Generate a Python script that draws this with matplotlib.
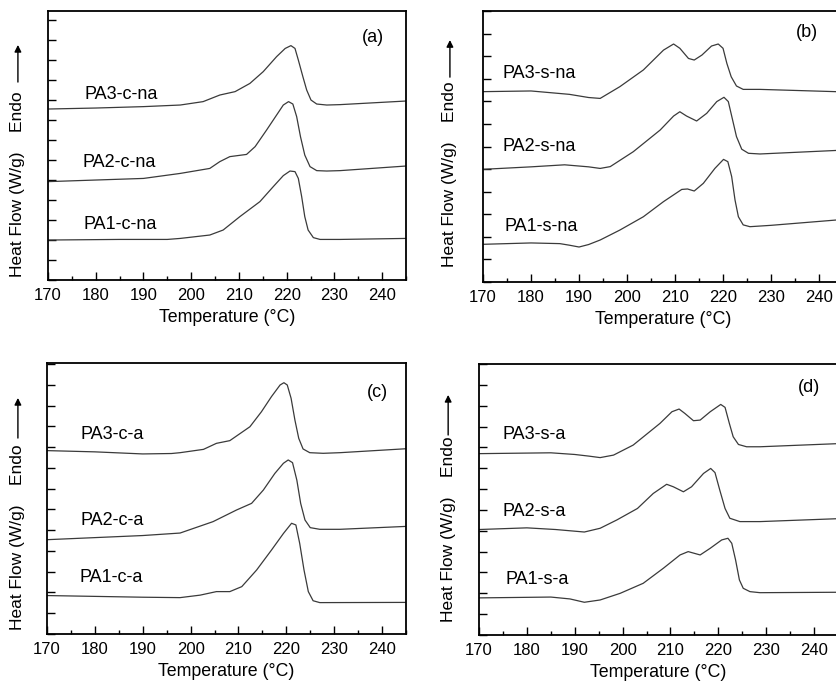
import matplotlib

matplotlib.use("Agg")
import matplotlib.pyplot as plt  # noqa: E402
from matplotlib.ticker import MultipleLocator  # noqa: E402

plt.rcParams["font.family"] = ["Liberation Sans", "DejaVu Sans"]

# ---- panel (a): PA*-c-na ----
a_pa3_t = [170, 180, 190, 197.7, 202.5, 206, 209.2, 212.3, 215.1, 217.9, 219.7, 220.9, 221.75, 222.45, 223.4, 224.2, 225.1, 226.3, 228.4, 231.2, 245]
a_pa3_y = [8.55, 8.6, 8.67, 8.75, 8.92, 9.25, 9.42, 9.83, 10.42, 11.17, 11.58, 11.72, 11.58, 11.0, 10.17, 9.5, 9.0, 8.8, 8.75, 8.77, 8.95]
a_pa2_t = [170, 180, 190, 197.7, 203.9, 206, 208.1, 211.6, 213.4, 215.8, 217.9, 219.3, 220.4, 221.3, 222.1, 222.9, 223.8, 224.9, 226.3, 228.4, 231.2, 245]
a_pa2_y = [4.92, 5.0, 5.08, 5.33, 5.58, 5.92, 6.17, 6.28, 6.67, 7.5, 8.25, 8.75, 8.92, 8.8, 8.17, 7.17, 6.25, 5.67, 5.47, 5.45, 5.47, 5.7]
a_pa1_t = [170, 185, 195, 197.7, 203.9, 206.7, 210.2, 214.4, 217.2, 219.3, 220.7, 221.75, 222.45, 223.15, 223.8, 224.5, 225.6, 227, 231.2, 245]
a_pa1_y = [2.0, 2.03, 2.03, 2.08, 2.25, 2.5, 3.17, 3.92, 4.67, 5.22, 5.45, 5.42, 5.08, 4.17, 3.17, 2.5, 2.12, 2.03, 2.03, 2.08]

# ---- panel (b): PA*-s-na ----
b_pa3_t = [170, 180, 188, 192, 194.4, 198.5, 203.4, 207.6, 209.7, 211, 212.8, 214, 215.6, 217.6, 219, 220, 220.8, 221.7, 222.8, 224.2, 227.7, 245]
b_pa3_y = [8.43, 8.46, 8.31, 8.17, 8.13, 8.65, 9.39, 10.27, 10.54, 10.35, 9.9, 9.83, 10.05, 10.45, 10.54, 10.35, 9.68, 9.09, 8.68, 8.53, 8.53, 8.42]
b_pa2_t = [170, 180, 187, 192, 194.4, 196.5, 201.3, 206.9, 209.7, 211, 212.4, 214.5, 216.6, 218.7, 220.2, 221.1, 222, 222.8, 223.9, 225.3, 227.7, 245]
b_pa2_y = [4.99, 5.1, 5.19, 5.1, 5.03, 5.11, 5.77, 6.73, 7.35, 7.54, 7.35, 7.13, 7.47, 7.99, 8.18, 7.99, 7.17, 6.44, 5.88, 5.7, 5.67, 5.84]
b_pa1_t = [170, 180, 186, 188, 190, 192, 194.4, 198.5, 203.4, 207.6, 211.4, 212.6, 214, 215.9, 218.3, 220.1, 221, 221.8, 222.5, 223.2, 224.2, 225.6, 230, 245]
b_pa1_y = [1.67, 1.73, 1.70, 1.63, 1.55, 1.66, 1.86, 2.3, 2.89, 3.56, 4.1, 4.12, 4.03, 4.37, 5.03, 5.43, 5.33, 4.67, 3.63, 2.89, 2.53, 2.45, 2.51, 2.77]

# ---- panel (c): PA*-c-a ----
c_pa3_t = [170, 180, 190, 196, 197.8, 202.7, 205.4, 208.2, 212.4, 214.8, 216.9, 218.7, 219.5, 220.2, 221, 221.8, 222.6, 223.5, 224.9, 227.7, 231.2, 245]
c_pa3_y = [8.83, 8.77, 8.67, 8.69, 8.73, 8.89, 9.18, 9.31, 9.98, 10.7, 11.43, 11.99, 12.1, 11.99, 11.35, 10.3, 9.42, 8.91, 8.73, 8.7, 8.73, 8.92]
c_pa2_t = [170, 190, 197.8, 204.7, 209.6, 212.75, 215.2, 217.6, 219.4, 220.4, 221.3, 222.2, 223, 223.9, 225, 227, 231.2, 245]
c_pa2_y = [4.54, 4.74, 4.86, 5.41, 5.97, 6.29, 6.93, 7.73, 8.22, 8.38, 8.25, 7.41, 6.29, 5.49, 5.12, 5.04, 5.04, 5.18]
c_pa1_t = [170, 190, 197.8, 202, 205.4, 208.2, 210.7, 213.8, 216.9, 219.4, 221.1, 222, 222.8, 223.7, 224.6, 225.6, 227, 245]
c_pa1_y = [1.85, 1.77, 1.75, 1.87, 2.04, 2.04, 2.28, 3.08, 4.04, 4.84, 5.33, 5.25, 4.36, 3.08, 2.04, 1.6, 1.51, 1.52]

# ---- panel (d): PA*-s-a ----
d_pa3_t = [170, 185, 190, 193, 195.3, 198.1, 202.2, 207.8, 210.3, 211.8, 213, 214.8, 216.2, 218.3, 220.5, 221.4, 222.3, 223.1, 224.2, 225.9, 228.7, 245]
d_pa3_y = [8.70, 8.74, 8.66, 8.58, 8.51, 8.63, 9.11, 10.15, 10.71, 10.84, 10.63, 10.28, 10.31, 10.71, 11.06, 10.92, 10.15, 9.51, 9.14, 9.03, 9.03, 9.18]
d_pa2_t = [170, 180, 186, 190, 192, 195.3, 198.8, 203.1, 206.4, 209.2, 210.6, 212.7, 214.4, 216.9, 218.4, 219.3, 220.3, 221.4, 222.4, 224.5, 228.7, 245]
d_pa2_y = [5.06, 5.14, 5.06, 4.98, 4.94, 5.12, 5.52, 6.07, 6.79, 7.23, 7.11, 6.87, 7.11, 7.75, 7.99, 7.79, 6.95, 6.07, 5.6, 5.44, 5.44, 5.58]
d_pa1_t = [170, 185, 189, 192, 195.3, 199.5, 204.3, 208.5, 212, 213.7, 216.2, 218.3, 220.7, 222, 222.8, 223.6, 224.4, 225.2, 226.6, 228.7, 245]
d_pa1_y = [1.78, 1.82, 1.73, 1.57, 1.68, 2.0, 2.48, 3.2, 3.84, 4.0, 3.84, 4.16, 4.56, 4.64, 4.4, 3.6, 2.64, 2.24, 2.08, 2.03, 2.05]

panels = [
    dict(letter="(a)", curves=[(a_pa3_t, a_pa3_y), (a_pa2_t, a_pa2_y), (a_pa1_t, a_pa1_y)],
         names=["PA3-c-na", "PA2-c-na", "PA1-c-na"], ymax=13.45,
         rect=[0.0574, 0.5912, 0.4282, 0.3927],
         label_pos=[(177.7, 9.28), (177.3, 5.87), (177.5, 2.8)],
         letter_pos=(0.908, 0.90), ylab=(-0.084, 0.01, 0.736, 0.874)),
    dict(letter="(b)", curves=[(b_pa3_t, b_pa3_y), (b_pa2_t, b_pa2_y), (b_pa1_t, b_pa1_y)],
         names=["PA3-s-na", "PA2-s-na", "PA1-s-na"], ymax=12.0,
         rect=[0.5778, 0.5883, 0.4306, 0.3956],
         label_pos=[(174.0, 9.22), (174.0, 6.02), (174.5, 2.47)],
         letter_pos=(0.90, 0.92), ylab=(-0.092, 0.055, 0.756, 0.893)),
    dict(letter="(c)", curves=[(c_pa3_t, c_pa3_y), (c_pa2_t, c_pa2_y), (c_pa1_t, c_pa1_y)],
         names=["PA3-c-a", "PA2-c-a", "PA1-c-a"], ymax=13.05,
         rect=[0.0562, 0.0745, 0.4294, 0.3956],
         label_pos=[(176.96, 9.6), (176.96, 5.46), (176.8, 2.74)],
         letter_pos=(0.92, 0.89), ylab=(-0.081, 0.015, 0.723, 0.871)),
    dict(letter="(d)", curves=[(d_pa3_t, d_pa3_y), (d_pa2_t, d_pa2_y), (d_pa1_t, d_pa1_y)],
         names=["PA3-s-a", "PA2-s-a", "PA1-s-a"], ymax=13.0,
         rect=[0.5730, 0.0730, 0.4294, 0.3956],
         label_pos=[(175.0, 9.62), (175.0, 5.94), (175.6, 2.66)],
         letter_pos=(0.92, 0.915), ylab=(-0.086, 0.048, 0.738, 0.886)),
]

fig = plt.figure(figsize=(8.36, 6.85), dpi=100)

for panel in panels:
    ax = fig.add_axes(panel["rect"])
    for (t, y) in panel["curves"]:
        ax.plot(t, y, color="#3a3a3a", lw=0.9, solid_joinstyle="round")
    for name, (tx, ty) in zip(panel["names"], panel["label_pos"]):
        ax.text(tx, ty, name, fontsize=13, ha="left", va="center")
    ax.text(*panel["letter_pos"], panel["letter"], fontsize=13, transform=ax.transAxes,
            ha="center", va="center")

    ax.set_xlim(170, 245)
    ax.set_ylim(0, panel["ymax"])
    ax.xaxis.set_major_locator(MultipleLocator(10))
    ax.xaxis.set_minor_locator(MultipleLocator(5))
    ax.yaxis.set_major_locator(MultipleLocator(1))
    ax.tick_params(axis="x", which="major", direction="in", length=6, width=1, labelsize=12, pad=6)
    ax.tick_params(axis="x", which="minor", direction="in", length=3, width=1)
    ax.tick_params(axis="y", which="major", direction="in", length=6, width=1, labelleft=False)
    ax.tick_params(top=False, right=False)
    for spine in ax.spines.values():
        spine.set_linewidth(1.3)
    ax.set_xlabel("Temperature (°C)", fontsize=12.8, labelpad=4)

    lx, ly, a0, a1 = panel["ylab"]
    ax.text(lx, ly, "Heat Flow (W/g)    Endo", rotation=90, fontsize=12.5,
            ha="center", va="bottom", transform=ax.transAxes)
    ax.annotate("", xy=(lx, a1), xytext=(lx, a0), xycoords="axes fraction",
                textcoords="axes fraction", annotation_clip=False,
                arrowprops=dict(arrowstyle="-|>", color="black", lw=1,
                                mutation_scale=10, shrinkA=0, shrinkB=0))

fig.savefig("out.png", dpi=100)
